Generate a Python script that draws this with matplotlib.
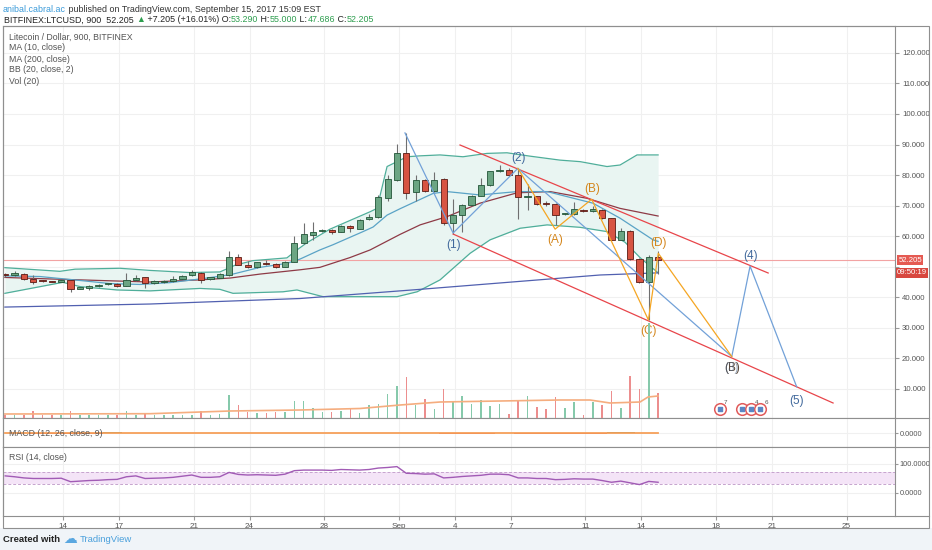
import matplotlib

matplotlib.use("Agg")
import matplotlib.pyplot as plt  # noqa: E402
import numpy as np  # noqa: E402
from matplotlib.lines import Line2D  # noqa: E402
from matplotlib.patches import Rectangle  # noqa: E402
from matplotlib.ticker import FormatStrFormatter  # noqa: E402

# Arial-like UI font, DejaVu as glyph fallback (for the ▲ etc.)
FONT = ["Liberation Sans", "DejaVu Sans"]
plt.rcParams.update({"font.family": FONT})

W, H = 932, 550

# Palette (TradingView 2017 look)
INK = "#333333"
AXIS_TXT = "#555555"
FRAME = "#8f8f8f"
GRID = "#f0f0f0"
UP_FILL, UP_EDGE = "#6ba583", "#225437"
DN_FILL, DN_EDGE = "#d75442", "#5b1a13"
WICK = "#6f6f70"
BAND = "#4fae9a"
BAND_FILL = "#e9f5f2"
BASIS = "#8e3a46"
MA10 = "#5aa3c6"
MA200 = "#5160b0"
CHANNEL = "#e8454a"
WAVE_BLUE = "#72a1d8"
WAVE_BLUE_TXT = "#41699c"
WAVE_ORANGE = "#f5a623"
WAVE_ORANGE_TXT = "#d4861c"

TICK = 5.6      # axis tick labels
SMALL = 6.3     # legend / panel titles / header

# --------------------------------------------------------------------------- #
# Data: half-day candles, x in "days" (Aug 14 = 14, Sep 1 = 32, Sep 14 = 45)
# --------------------------------------------------------------------------- #
opens = [47.5, 47.3, 47.6, 46.1, 45.4, 45.2, 45.1, 45.6, 42.8, 43.0,
         43.6, 44.2, 44.4, 43.8, 45.7, 46.5, 44.7, 45.0, 45.2, 46.1,
         47.2, 48.1, 46.0, 46.4, 47.4, 53.2, 50.7, 49.8, 51.2, 51.0,
         50.0, 51.6, 57.9, 60.3, 61.6, 61.9, 61.5, 63.3, 62.4, 65.5,
         66.2, 72.6, 78.5, 87.3, 74.4, 78.4, 74.9, 78.6, 64.4, 67.0,
         70.3, 73.2, 76.6, 81.2, 81.6, 80.1, 72.9, 73.0, 70.7, 70.7,
         67.1, 67.3, 68.6, 68.3, 68.7, 65.8, 58.9, 61.7, 52.4, 45.1,
         53.29]
highs = [47.9, 48.5, 47.8, 47.3, 45.6, 45.4, 45.8, 45.8, 43.5, 43.9,
         44.3, 44.7, 44.6, 47.8, 47.3, 46.7, 45.6, 45.5, 47.1, 47.4,
         49.0, 48.3, 46.8, 47.8, 55.2, 54.3, 51.9, 51.7, 52.3, 51.2,
         51.9, 60.0, 64.3, 64.7, 62.5, 62.2, 63.7, 63.5, 65.7, 67.4,
         73.4, 80.1, 90.2, 93.7, 80.1, 78.8, 81.1, 79.0, 72.1, 70.6,
         73.5, 79.0, 81.5, 83.3, 82.2, 82.2, 77.0, 73.3, 71.6, 71.0,
         67.6, 71.3, 68.9, 70.0, 69.0, 66.1, 62.8, 62.0, 52.7, 54.0,
         55.0]
lows = [46.8, 47.0, 45.6, 44.3, 45.0, 44.9, 44.9, 41.6, 42.6, 42.3,
        43.4, 44.0, 43.5, 43.6, 45.2, 43.0, 44.5, 44.8, 45.0, 45.9,
        47.0, 44.8, 45.8, 46.2, 47.0, 50.5, 49.6, 49.6, 50.7, 49.7,
        49.8, 51.4, 57.5, 58.8, 61.3, 60.8, 61.3, 61.5, 62.2, 65.2,
        65.9, 71.5, 78.2, 72.3, 71.6, 74.5, 74.6, 63.8, 60.6, 61.5,
        70.0, 73.0, 76.3, 80.9, 79.8, 65.5, 68.6, 70.3, 69.8, 63.6,
        66.8, 67.0, 67.9, 68.0, 65.5, 58.6, 58.6, 52.1, 44.8, 32.6,
        47.686]
closes = [47.2, 47.9, 45.9, 45.1, 45.3, 45.1, 45.6, 42.6, 43.3, 43.6,
          44.1, 44.5, 43.8, 45.7, 46.4, 44.6, 45.4, 45.3, 45.9, 47.1,
          48.2, 45.7, 46.5, 47.5, 53.2, 50.7, 49.8, 51.4, 50.9, 49.9,
          51.6, 57.9, 60.6, 61.4, 61.9, 61.4, 63.4, 62.6, 65.4, 66.3,
          72.8, 78.7, 87.1, 74.3, 78.4, 74.9, 78.4, 64.4, 67.0, 70.3,
          73.2, 76.8, 81.2, 81.7, 80.1, 72.8, 73.2, 70.6, 70.5, 66.9,
          67.3, 68.8, 68.1, 68.8, 65.8, 58.9, 61.7, 52.4, 45.1, 53.3,
          52.205]
# volume, in screen-pixel units of bar height
volume = [3, 3, 3, 7, 3, 3, 3, 7, 3, 3, 3, 3, 3, 7, 3, 4, 3, 3, 3, 3,
          3, 7, 3, 4, 23, 13, 6, 5, 5, 6, 6, 17, 17, 10, 6, 6, 7, 9, 5, 12.7,
          14, 24, 32, 41, 13, 19, 9, 29, 17, 22, 14, 18, 12, 14, 4, 18, 22, 11, 9, 21,
          10, 16, 3, 16, 13, 27, 10, 42, 29, 95, 25]
rsi = [58, 55, 51, 49, 49, 49, 50, 38, 40, 42, 43, 45, 46, 55, 58, 49, 50, 51,
       53, 57, 61, 53, 53, 55, 70, 63, 61, 62, 61, 60, 64, 76, 78, 78, 78, 77,
       80, 79, 78, 80, 85, 87, 90, 67, 66, 64, 65, 51, 53, 56, 58, 60, 64, 64,
       62, 51, 51, 49, 49, 45, 46, 48, 47, 47, 42, 36, 40, 34, 28, 39, 36]
macd_hist = [0, 0, 0, -0.12, -0.12, -0.12, -0.12, -0.12, -0.12, -0.12,
             -0.12, 0.12, 0.12, 0, 0, 0, 0, 0, 0, 0,
             0, 0, 0, 0, 0, 0, 0, 0, 0, 0,
             0, 0, 0, 0, 0, 0, 0, 0, 0, 0,
             0, 0, 0, 0, 0, 0, 0, -0.12, -0.12, -0.12,
             -0.12, -0.12, -0.12, 0, 0, -0.12, -0.12, -0.12, -0.12, -0.12,
             -0.12, -0.12, -0.12, -0.12, -0.12, 0.12, 0.12, 0.12, 0, 0, 0]
macd_line = [0.0] * 71

first_day = 10.9
times = first_day + 0.5 * np.arange(len(closes))

# indicator lines: (day, price)
bb_upper_x = [10.88, 13.83, 14.64, 17.05, 18.66, 20.80, 22.41, 23.22, 24.18, 26.0,
              26.54, 27.08, 28.31, 30.46, 30.83, 31.37, 32.44, 33.14, 34.21, 35.44,
              36.73, 37.80, 39.03, 40.64, 41.72, 43.16, 43.86, 44.77, 45.9]
bb_upper_y = [49.7, 48.5, 49.2, 49.5, 48.8, 48.1, 48.3, 50.5, 52.0, 52.9,
              55.5, 57.9, 62.3, 68.0, 69.1, 82.8, 86.0, 86.3, 86.6, 86.0,
              87.1, 87.3, 86.2, 84.9, 84.4, 82.8, 83.3, 86.6, 86.6]
bb_lower_x = [10.88, 13.99, 14.91, 16.89, 18.66, 21.34, 22.41, 23.11, 25.79, 26.54,
              27.94, 31.90, 32.98, 34.21, 35.82, 36.89, 38.50, 39.95, 41.72, 43.16,
              44.13, 44.93, 45.9]
bb_lower_y = [41.3, 44.9, 43.5, 42.4, 42.1, 42.9, 42.6, 41.3, 41.8, 42.4,
              40.2, 40.2, 41.8, 45.7, 54.4, 58.8, 62.6, 63.7, 62.9, 61.5,
              58.0, 53.0, 48.0]
bb_basis_x = [10.88, 13.3, 15.98, 18.66, 21.34, 22.95, 24.56, 26.7, 27.77, 29.38,
              30.46, 32.07, 33.14, 34.58, 36.35, 38.34, 40.11, 42.09, 43.86, 45.9]
bb_basis_y = [46.5, 46.0, 45.5, 45.0, 45.7, 46.3, 47.6, 49.0, 49.8, 53.0,
              55.5, 60.6, 63.7, 66.4, 70.8, 74.2, 74.6, 72.4, 69.1, 66.6]
ma10_x = [10.88, 12.76, 14.91, 16.51, 18.12, 19.73, 21.34, 22.41, 23.11, 24.56,
          26.0, 26.7, 27.77, 28.47, 30.08, 30.62, 31.37, 32.07, 33.84, 34.58,
          36.35, 38.34, 39.95, 42.41, 43.86, 45.63, 45.9]
ma10_y = [47.0, 46.8, 45.5, 44.5, 44.2, 44.8, 46.0, 46.9, 47.6, 49.8,
          51.1, 52.5, 55.5, 57.2, 61.5, 63.0, 66.9, 69.0, 74.0, 74.6,
          73.5, 74.6, 74.6, 70.8, 65.9, 58.8, 58.3]
ma200_x = [10.88, 18.66, 26.7, 33.14, 40.11, 42.79, 45.9]
ma200_y = [36.8, 37.8, 39.6, 42.6, 46.0, 47.3, 48.0]
vol_ma_x = [10.88, 18.66, 22.95, 26.7, 29.92, 32.07, 34.21, 37.43, 40.64, 42.25,
            43.32, 44.93, 45.36, 45.9]
vol_ma_y = [4, 4.3, 7, 8, 9.5, 13, 16, 17, 18, 18, 15, 16, 21, 22]

# Elliott-wave drawings
wave_main_x = [32.33, 34.91, 38.38, 49.85, 50.83, 53.33]
wave_main_y = [93.8, 61.05, 82.2, 20.6, 50.2, 10.7]
wave_abc_x = [38.38, 40.38, 42.34, 45.38, 45.91, 49.85]
wave_abc_y = [82.2, 62.3, 72.1, 32.6, 54.4, 20.6]
chan_upper_x, chan_upper_y = [35.28, 51.8], [89.85, 47.95]
chan_lower_x, chan_lower_y = [34.91, 55.28], [60.7, 5.4]
main_labels = ["(1)", "(2)", "(4)", "(5)"]
main_label_x = [34.91, 38.4, 50.83, 53.3]
main_label_y = [57.1, 85.6, 53.5, 6.0]
abc_labels = ["(A)", "(B)", "(C)", "(D)"]
abc_label_x = [40.38, 42.36, 45.36, 45.9]
abc_label_y = [58.8, 75.4, 29.0, 57.8]

last_price = 52.205
date_ticks = [14, 17, 21, 24, 28, 32, 35, 38, 42, 45, 49, 52, 56]
date_labels = ["14", "17", "21", "24", "28", "Sep", "4", "7", "11", "14", "18", "21", "25"]
price_ticks = [10, 20, 30, 40, 50, 60, 70, 80, 90, 100, 110, 120]
event_x = [49.22, 50.4, 50.88, 51.37]
event_n = ["7", "", "4", "6"]


def fx(px):
    return px / W


def fy(py):
    return 1 - py / H


fig = plt.figure(figsize=(W / 100, H / 100), dpi=100)
fig.patch.set_facecolor("white")
RND = fig.canvas.get_renderer()


def rich_text(x, y, pieces, size):
    """Write coloured text pieces one after another on one line."""
    cur = x
    for s, col in pieces:
        t = fig.text(fx(cur), fy(y), s, color=col, fontsize=size,
                     ha="left", va="center")
        cur += t.get_window_extent(renderer=RND).width


L, R = 3, 895
ax = fig.add_axes([fx(L), fy(418), (R - L) / W, (418 - 26) / H])
axm = fig.add_axes([fx(L), fy(447), (R - L) / W, (447 - 418) / H], sharex=ax)
axr = fig.add_axes([fx(L), fy(516), (R - L) / W, (516 - 447) / H], sharex=ax)
axv = ax.twinx()

ax.set_xlim(10.78, 58.6)
ax.set_ylim(0.49, 128.8)
axv.set_ylim(0, 392)
axm.set_ylim(-1.4, 1.5)
axr.set_ylim(-80.3, 157.6)

for a in (ax, axm, axr):
    a.set_xticks(date_ticks)
    a.grid(True, color=GRID, lw=0.8, zorder=0)
    a.set_axisbelow(True)
    for sp in a.spines.values():
        sp.set_color(FRAME)
        sp.set_linewidth(0.8)
    a.yaxis.tick_right()
    a.tick_params(axis="y", length=3, color="#999999", labelsize=TICK,
                  labelcolor=AXIS_TXT, pad=2)
    a.tick_params(axis="x", length=3, color="#999999", labelsize=TICK + 0.3,
                  labelcolor=AXIS_TXT, pad=2)
ax.tick_params(axis="x", bottom=False, labelbottom=False)
axm.tick_params(axis="x", bottom=False, labelbottom=False)
axr.set_xticklabels(date_labels)

# the 50.000 label sits under the last-price tags, as in the original
ax.set_yticks(price_ticks)
ax.set_yticklabels(["" if p == 50 else f"{p:.3f}" for p in price_ticks])
axm.set_yticks([0])
axm.yaxis.set_major_formatter(FormatStrFormatter("%.4f"))
axr.set_yticks([0, 100])
axr.yaxis.set_major_formatter(FormatStrFormatter("%.4f"))
for a in (axm, axr):
    a.tick_params(axis="y", length=2, pad=1.5, labelsize=TICK - 0.3)

axv.set_yticks([])
axv.tick_params(right=False, labelright=False)
for sp in axv.spines.values():
    sp.set_visible(False)

# --- Bollinger bands + moving averages --------------------------------------
band_x = np.union1d(bb_upper_x, bb_lower_x)
ax.fill_between(band_x, np.interp(band_x, bb_lower_x, bb_lower_y),
                np.interp(band_x, bb_upper_x, bb_upper_y),
                color=BAND_FILL, lw=0, zorder=1)
ax.plot(bb_upper_x, bb_upper_y, color=BAND, lw=0.9, zorder=2)
ax.plot(bb_lower_x, bb_lower_y, color=BAND, lw=0.9, zorder=2)
ax.plot(bb_basis_x, bb_basis_y, color=BASIS, lw=0.9, zorder=2)
ax.plot(ma10_x, ma10_y, color=MA10, lw=0.9, zorder=2)
ax.plot(ma200_x, ma200_y, color=MA200, lw=0.9, zorder=2)

# last price line
ax.axhline(last_price, color="#f2a3a3", lw=0.8, zorder=1.5)

# --- Candles -----------------------------------------------------------------
o = np.array(opens)
c = np.array(closes)
up = c >= o
ax.vlines(times, lows, highs, color=WICK, lw=0.8, zorder=3)
body_lo = np.minimum(o, c)
body_h = np.maximum(np.abs(c - o), 0.35)
ax.bar(times, body_h, bottom=body_lo, width=0.33,
       color=np.where(up, UP_FILL, DN_FILL),
       edgecolor=np.where(up, UP_EDGE, DN_EDGE), linewidth=0.6, zorder=4)

# --- Volume overlay ------------------------------------------------------------
axv.bar(times, volume, width=0.08, color=np.where(up, "#86c9ab", "#ec8e8e"),
        lw=0, zorder=1)
axv.plot(vol_ma_x, vol_ma_y, color="#f5ad7f", lw=1.2, zorder=2)

# --- Wave drawings -------------------------------------------------------------
ax.plot(chan_upper_x, chan_upper_y, color=CHANNEL, lw=0.9, zorder=5)
ax.plot(chan_lower_x, chan_lower_y, color=CHANNEL, lw=0.9, zorder=5)
ax.plot(wave_main_x, wave_main_y, color=WAVE_BLUE, lw=0.9, zorder=5)
ax.plot(wave_abc_x, wave_abc_y, color=WAVE_ORANGE, lw=0.9, zorder=5)
for s, x, y in zip(main_labels, main_label_x, main_label_y):
    ax.text(x, y, s, ha="center", va="center", fontsize=8.5,
            color=WAVE_BLUE_TXT, zorder=6)
for s, x, y in zip(abc_labels, abc_label_x, abc_label_y):
    ax.text(x, y, s, ha="center", va="center", fontsize=8.5,
            color=WAVE_ORANGE_TXT, zorder=6)
# wave (3) and (B) share the same point and overprint each other
ax.text(wave_main_x[3], 16.9, "(B)", ha="center", va="center", fontsize=8.5,
        color="#5b4a3c", zorder=6)
ax.text(wave_main_x[3], 16.9, "(3)", ha="center", va="center", fontsize=8.5,
        color="#46607f", alpha=0.55, zorder=6)

# economic event icons
ax.scatter(event_x, [3.4] * len(event_x), s=70, facecolor="white",
           edgecolor="#e05a5a", linewidth=1.1, zorder=6, clip_on=False)
ax.scatter(event_x, [3.4] * len(event_x), s=12, marker="s", color="#5b86c4",
           zorder=7, clip_on=False)
for x, n in zip(event_x, event_n):
    ax.text(x + 0.22, 5.2, n, fontsize=4.5, color="#555555", zorder=7)

# price labels on the right axis
ytr = ax.get_yaxis_transform()
ax.text(1.004, last_price, "52.205", transform=ytr, ha="left", va="center",
        fontsize=TICK, color="white", zorder=10, clip_on=False,
        bbox=dict(boxstyle="square,pad=0.15", fc="#e55a52", ec="none"))
ax.text(1.002, 48.0, "09:50:19", transform=ytr, ha="left", va="center",
        fontsize=TICK, color="white", zorder=10, clip_on=False,
        bbox=dict(boxstyle="square,pad=0.15", fc="#d8473f", ec="none"))

# --- MACD ------------------------------------------------------------------------
hist = np.array(macd_hist)
axm.bar(times, hist, width=0.5, color=np.where(hist < 0, "#e0393e", "#3c8f5f"),
        lw=0, zorder=2)
axm.plot(times, macd_line, color="#f6a05a", lw=1.3, zorder=3)

# --- RSI -------------------------------------------------------------------------
axr.axhspan(30, 70, color="#f4e4f7", lw=0, zorder=1)
axr.axhline(70, color="#c6a4ce", lw=0.7, ls=(0, (3, 2)), zorder=1.5)
axr.axhline(30, color="#c6a4ce", lw=0.7, ls=(0, (3, 2)), zorder=1.5)
axr.plot(times, rsi, color="#a15bb5", lw=1.0, zorder=3)

# --- Frame, separators, footer ---------------------------------------------------
fig.patches.append(Rectangle((0, 0), 1, fy(528), transform=fig.transFigure,
                             facecolor="#f0f4f8", edgecolor="none", zorder=0))
fig.patches.append(Rectangle((fx(3), fy(528)), (929 - 3) / W, (528 - 26) / H,
                             transform=fig.transFigure, fill=False,
                             edgecolor=FRAME, lw=0.8, zorder=5))
for yy in (418, 447, 516):
    fig.lines.append(Line2D([fx(R), fx(929)], [fy(yy), fy(yy)],
                            transform=fig.transFigure, color=FRAME, lw=0.8))

legend = ["Litecoin / Dollar, 900, BITFINEX", "MA (10, close)", "MA (200, close)",
          "BB (20, close, 2)", "Vol (20)"]
for i, s in enumerate(legend):
    fig.text(fx(9), fy(37 + i * 11), s, fontsize=SMALL, color=AXIS_TXT,
             ha="left", va="center")
fig.text(fx(9), fy(433), "MACD (12, 26, close, 9)", fontsize=SMALL,
         color=AXIS_TXT, ha="left", va="center")
fig.text(fx(9), fy(457), "RSI (14, close)", fontsize=SMALL,
         color=AXIS_TXT, ha="left", va="center")

GREEN = "#2e9e4f"
rich_text(3, 9, [("anibal.cabral.ac", "#3a9ad9"),
                 (" published on TradingView.com, September 15, 2017 15:09 EST", INK)],
          size=6.4)
rich_text(4, 20, [("BITFINEX:LTCUSD, 900  52.205 ", "#222222"), ("▲", GREEN),
                  (" +7.205 (+16.01%) O:", "#222222"), ("53.290", GREEN),
                  (" H:", "#222222"), ("55.000", GREEN), (" L:", "#222222"),
                  ("47.686", GREEN), (" C:", "#222222"), ("52.205", GREEN)],
          size=6.4)

cw = fig.text(fx(3), fy(539), "Created with", fontsize=6.8, fontweight="bold",
              color="#222222", ha="left", va="center")
x_end = 3 + cw.get_window_extent(renderer=RND).width
fig.text(fx(x_end + 10), fy(539), "☁", fontsize=10, family="DejaVu Sans",
         color="#5aa7e0", ha="center", va="center")
fig.text(fx(x_end + 20), fy(539), "TradingView", fontsize=6.8,
         color="#4aa0dc", ha="left", va="center")

fig.savefig("out.png", dpi=100, facecolor="white")
